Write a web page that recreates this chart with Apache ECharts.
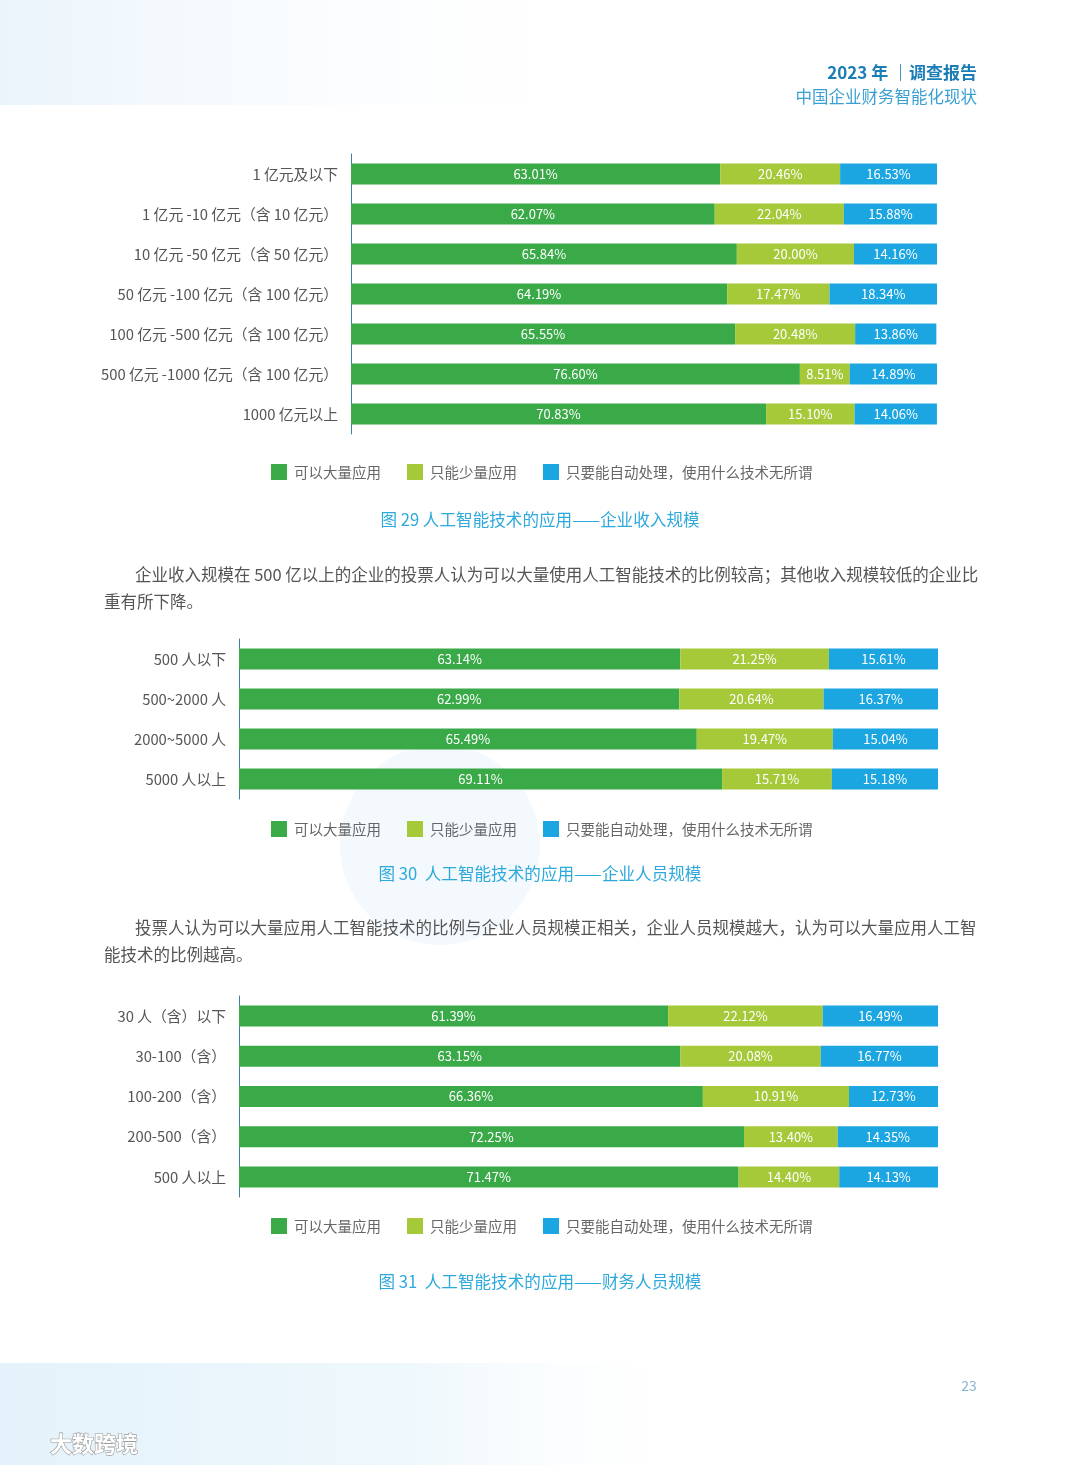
<!DOCTYPE html>
<html>
<head>
<meta charset="utf-8">
<style>
html,body{margin:0;padding:0;background:#fff;}
#chart{width:1080px;height:1465px;}
</style>
<script src="https://cdn.jsdelivr.net/npm/echarts@6/dist/echarts.min.js"></script>
</head>
<body>
<div id="chart"></div>
<script>
// ---- data ----
const seriesNames = ['可以大量应用', '只能少量应用', '只要能自动处理，使用什么技术无所谓'];

const revenueCats = ['1 亿元及以下', '1 亿元 -10 亿元（含 10 亿元）', '10 亿元 -50 亿元（含 50 亿元）', '50 亿元 -100 亿元（含 100 亿元）', '100 亿元 -500 亿元（含 100 亿元）', '500 亿元 -1000 亿元（含 100 亿元）', '1000 亿元以上'];
const revenueHigh = [63.01, 62.07, 65.84, 64.19, 65.55, 76.60, 70.83];
const revenueLow = [20.46, 22.04, 20.00, 17.47, 20.48, 8.51, 15.10];
const revenueAny = [16.53, 15.88, 14.16, 18.34, 13.86, 14.89, 14.06];

const staffCats = ['500 人以下', '500~2000 人', '2000~5000 人', '5000 人以上'];
const staffHigh = [63.14, 62.99, 65.49, 69.11];
const staffLow = [21.25, 20.64, 19.47, 15.71];
const staffAny = [15.61, 16.37, 15.04, 15.18];

const financeCats = ['30 人（含）以下', '30-100（含）', '100-200（含）', '200-500（含）', '500 人以上'];
const financeHigh = [61.39, 63.15, 66.36, 72.25, 71.47];
// bar length as drawn (third row's bar spans ~20.91%, although its printed label reads 10.91%)
const financeLow = [22.12, 20.08, 20.91, 13.40, 14.40];
const financeLowPrinted = ['22.12%', '20.08%', '10.91%', '13.40%', '14.40%'];
const financeAny = [16.49, 16.77, 12.73, 14.35, 14.13];

// ---- style ----
const FONT = '"Noto Sans CJK SC", "Noto Sans", sans-serif';
const colors = ['#3aaa48', '#a6c93a', '#1ba5e1'];

const grids = [
  {left: 351, width: 586, top: 154, height: 280},
  {left: 239, width: 699, top: 639, height: 160},
  {left: 239, width: 699, top: 996, height: 201}
];
const catsList = [revenueCats, staffCats, financeCats];
const dataList = [
  [revenueHigh, revenueLow, revenueAny],
  [staffHigh, staffLow, staffAny],
  [financeHigh, financeLow, financeAny]
];
const printedList = [
  [null, null, null],
  [null, null, null],
  [null, financeLowPrinted, null]
];
const legendTops = [464, 821, 1218];

const chart = echarts.init(document.getElementById('chart'), null, {renderer: 'canvas'});

const xAxis = grids.map((g, i) => ({
  type: 'value', gridIndex: i, min: 0, max: 100, show: false
}));
const yAxis = grids.map((g, i) => ({
  type: 'category', gridIndex: i, inverse: true, data: catsList[i],
  axisLine: {show: true, lineStyle: {color: '#3f7fa3', width: 1}},
  axisTick: {show: false},
  splitLine: {show: false},
  axisLabel: {color: '#555', fontSize: 14.8, fontFamily: FONT, margin: 13}
}));
const series = [];
dataList.forEach((set, gi) => {
  set.forEach((vals, si) => {
    const printed = printedList[gi][si];
    series.push({
      type: 'bar', name: seriesNames[si], xAxisIndex: gi, yAxisIndex: gi,
      stack: 'g' + gi, data: vals, barWidth: 21,
      itemStyle: {color: colors[si]},
      label: {
        show: true, position: 'inside', color: '#fff', fontSize: 13, fontFamily: FONT,
        formatter: p => printed ? printed[p.dataIndex] : p.value.toFixed(2) + '%'
      }
    });
  });
});
const legend = legendTops.map(t => ({
  data: seriesNames, top: t, left: 271, padding: 0, itemGap: 26,
  itemWidth: 16, itemHeight: 16, icon: 'rect',
  textStyle: {color: '#666', fontSize: 14.5, fontFamily: FONT, padding: [0, 0, 0, 2]}
}));

function txt(text, x, y, opt) {
  return {
    type: 'text', silent: true, z: 10,
    style: Object.assign({
      text: text, x: x, y: y, fill: '#555', fontSize: 16, fontFamily: FONT,
      textAlign: 'left', textVerticalAlign: 'middle'
    }, opt || {})
  };
}

const graphic = [
  {type: 'rect', z: -1, silent: true, shape: {x: 0, y: 0, width: 620, height: 105},
   style: {fill: new echarts.graphic.LinearGradient(0, 0, 1, 0, [
     {offset: 0, color: '#eaf4fb'}, {offset: 1, color: 'rgba(255,255,255,0)'}])}},
  {type: 'rect', z: -1, silent: true, shape: {x: 0, y: 1363, width: 700, height: 102},
   style: {fill: new echarts.graphic.LinearGradient(0, 0, 1, 0, [
     {offset: 0, color: '#e4f2fb'}, {offset: 0.6, color: '#eff8fc'}, {offset: 1, color: 'rgba(255,255,255,0)'}])}},
  {type: 'circle', z: -1, silent: true, shape: {cx: 440, cy: 845, r: 100},
   style: {fill: 'rgba(215,236,248,0.3)'}},
  txt('2023 年 ｜调查报告', 977, 73, {textAlign: 'right', fill: '#1b7db6', fontSize: 17, fontWeight: 'bold'}),
  txt('中国企业财务智能化现状', 977, 97, {textAlign: 'right', fill: '#3aa0d3', fontSize: 16.5}),
  txt('图 29 人工智能技术的应用——企业收入规模', 540, 520, {textAlign: 'center', fill: '#2ea9dc', fontSize: 16.6}),
  txt('企业收入规模在 500 亿以上的企业的投票人认为可以大量使用人工智能技术的比例较高；其他收入规模较低的企业比', 135, 575, {fontSize: 16.5}),
  txt('重有所下降。', 104, 602, {fontSize: 16.5}),
  txt('图 30  人工智能技术的应用——企业人员规模', 540, 874, {textAlign: 'center', fill: '#2ea9dc', fontSize: 16.6}),
  txt('投票人认为可以大量应用人工智能技术的比例与企业人员规模正相关，企业人员规模越大，认为可以大量应用人工智', 135, 928, {fontSize: 16.5}),
  txt('能技术的比例越高。', 104, 955, {fontSize: 16.5}),
  txt('图 31  人工智能技术的应用——财务人员规模', 540, 1282, {textAlign: 'center', fill: '#2ea9dc', fontSize: 16.6}),
  txt('23', 969, 1386, {textAlign: 'center', fill: '#8ab4cc', fontSize: 14}),
  txt('大数跨境', 50, 1444, {fill: '#fff', stroke: '#9a9a9a', lineWidth: 1.2, fontSize: 22, fontWeight: 'bold'})
];

chart.setOption({
  animation: false,
  backgroundColor: '#fff',
  textStyle: {fontFamily: FONT},
  grid: grids,
  xAxis: xAxis,
  yAxis: yAxis,
  legend: legend,
  series: series,
  graphic: graphic
});
</script>
</body>
</html>
